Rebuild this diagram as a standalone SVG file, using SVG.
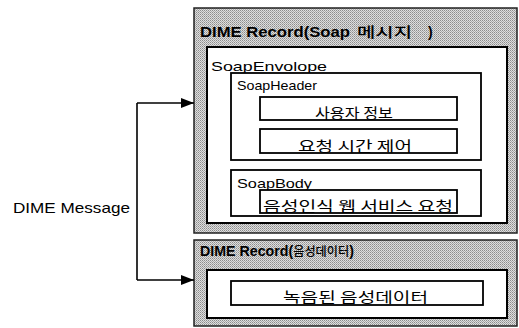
<svg xmlns="http://www.w3.org/2000/svg" width="519" height="328" viewBox="0 0 519 328">
  <defs>
    <!-- fine dither used for the record frames -->
    <pattern id="dither" width="2" height="2" patternUnits="userSpaceOnUse">
      <rect width="2" height="2" fill="#dedede"/>
      <rect width="1" height="1" fill="#8c8c8c"/>
      <rect x="1" y="1" width="1" height="1" fill="#aaaaaa"/>
    </pattern>
    <marker id="arrow" markerWidth="13" markerHeight="10" refX="13" refY="5" orient="auto" markerUnits="userSpaceOnUse">
      <path d="M0,0 L13,5 L0,10 Z" fill="#000"/>
    </marker>
  </defs>
  <style>
    .record { fill: url(#dither); stroke: #222; stroke-width: 1.5; }
    .frame { fill: #fff; stroke: #000; stroke-width: 2; }
    .box { fill: #fff; stroke: #000; stroke-width: 1.8; }
    .title { font-family: "Liberation Sans", "Noto Sans CJK KR", sans-serif; font-size: 14px; font-weight: bold; fill: #000; }
    .title-ko { font-family: "Noto Sans CJK KR", sans-serif; font-size: 14px; font-weight: 500; fill: #000; }
    .lbl { font-family: "Liberation Sans", "Noto Sans CJK KR", sans-serif; font-size: 13px; fill: #000; }
    .ko { font-family: "Noto Sans CJK KR", sans-serif; font-size: 14px; fill: #000; }
    .conn { fill: none; stroke: #000; stroke-width: 1.6; }
  </style>

  <rect width="519" height="328" fill="#fff"/>

  <g id="record-soap">
    <rect class="record" x="194" y="8" width="323" height="225"/>
    <text class="title" x="200" y="37" textLength="150" lengthAdjust="spacingAndGlyphs">DIME Record(Soap</text>
    <text class="title-ko" x="357" y="37" textLength="55" lengthAdjust="spacingAndGlyphs">메시지</text>
    <text class="title" x="428" y="37">)</text>
  </g>

  <g id="soap-envelope">
    <rect class="frame" x="207" y="47" width="300" height="176"/>
    <text class="lbl" x="211" y="71" textLength="116" lengthAdjust="spacingAndGlyphs">SoapEnvolope</text>
  </g>

  <g id="soap-header">
    <rect class="box" x="231" y="73" width="250" height="87"/>
    <text class="lbl" x="237" y="90" textLength="80" lengthAdjust="spacingAndGlyphs">SoapHeader</text>
  </g>

  <g id="user-info">
    <rect class="box" x="260" y="97" width="197" height="23"/>
    <text class="ko" x="315" y="118" textLength="78" lengthAdjust="spacingAndGlyphs">사용자 정보</text>
  </g>

  <g id="time-control">
    <rect class="box" x="260" y="129" width="197" height="24"/>
    <text class="ko" x="298" y="151" textLength="114" lengthAdjust="spacingAndGlyphs">요청 시간 제어</text>
  </g>

  <g id="soap-body">
    <rect class="box" x="231" y="170" width="250" height="46"/>
    <text class="lbl" x="237" y="188" textLength="75" lengthAdjust="spacingAndGlyphs">SoapBody</text>
  </g>

  <g id="speech-request">
    <rect class="box" x="260" y="190" width="197" height="23"/>
    <text class="ko" x="263" y="211" textLength="190" lengthAdjust="spacingAndGlyphs">음성인식 웹 서비스 요청</text>
  </g>

  <g id="record-voice">
    <rect class="record" x="194" y="240" width="323" height="86"/>
    <text class="title" x="200" y="256" textLength="154" lengthAdjust="spacingAndGlyphs">DIME Record(<tspan class="title-ko" style="font-size:12px">음성데이터</tspan>)</text>
  </g>

  <g id="voice-frame">
    <rect class="frame" x="207" y="270" width="300" height="48"/>
  </g>

  <g id="recorded-voice">
    <rect class="box" x="231" y="281" width="252" height="24"/>
    <text class="ko" x="283" y="302" textLength="145" lengthAdjust="spacingAndGlyphs">녹음된 음성데이터</text>
  </g>

  <g id="dime-message">
    <text class="lbl" x="13" y="213" textLength="117" lengthAdjust="spacingAndGlyphs" style="font-size:15px">DIME Message</text>
  </g>

  <g id="connectors">
    <path class="conn" d="M137,103 V280"/>
    <path class="conn" d="M137,103 H194" marker-end="url(#arrow)"/>
    <path class="conn" d="M137,280 H194" marker-end="url(#arrow)"/>
  </g>
</svg>
